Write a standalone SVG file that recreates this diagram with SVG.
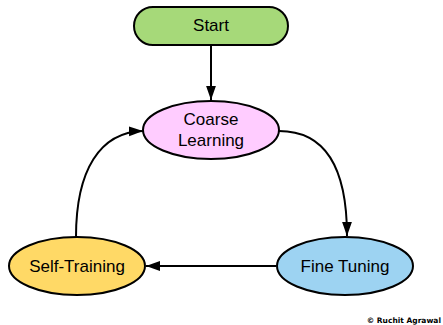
<svg xmlns="http://www.w3.org/2000/svg" width="443" height="325" viewBox="0 0 443 325">
<defs>
<style>
.n{stroke:#000;stroke-width:2}
.t{font-family:"Liberation Sans",Arial,sans-serif;font-size:17px;fill:#000;text-anchor:middle}
.c{fill:none;stroke:#000;stroke-width:2}
</style>
<marker id="ah" viewBox="0 0 10 10" refX="10" refY="5" markerWidth="14" markerHeight="14" markerUnits="userSpaceOnUse" orient="auto">
<path d="M0,1.5 L10,5 L0,8.5 z" fill="#000"/>
</marker>
</defs>
<rect width="443" height="325" fill="#fff"/>
<g id="connectors">
<path class="c" d="M211,45 L211,100" marker-end="url(#ah)"/>
<path class="c" d="M279,131 C330,131 347,175 347,236" marker-end="url(#ah)"/>
<path class="c" d="M276,266 L146,266" marker-end="url(#ah)"/>
<path class="c" d="M76,237 C76,170 100,132 143,131" marker-end="url(#ah)"/>
</g>
<g id="start">
<rect class="n" x="134" y="7" width="154" height="38" rx="19" fill="#a6d979"/>
<text class="t" x="211" y="31">Start</text>
</g>
<g id="coarse">
<ellipse class="n" cx="211" cy="130" rx="68" ry="29" fill="#ffccff"/>
<text class="t" x="211" y="125">Coarse</text>
<text class="t" x="211" y="146">Learning</text>
</g>
<g id="self">
<ellipse class="n" cx="77" cy="266" rx="68" ry="29" fill="#ffd966"/>
<text class="t" x="77" y="272">Self-Training</text>
</g>
<g id="fine">
<ellipse class="n" cx="345" cy="266" rx="68" ry="29" fill="#9dd3f2"/>
<text class="t" x="345" y="272">Fine Tuning</text>
</g>
<text x="441" y="323" text-anchor="end" style="font-family:'DejaVu Sans',sans-serif;font-size:7.5px;font-weight:bold;fill:#000">© Ruchit Agrawal</text>
</svg>
